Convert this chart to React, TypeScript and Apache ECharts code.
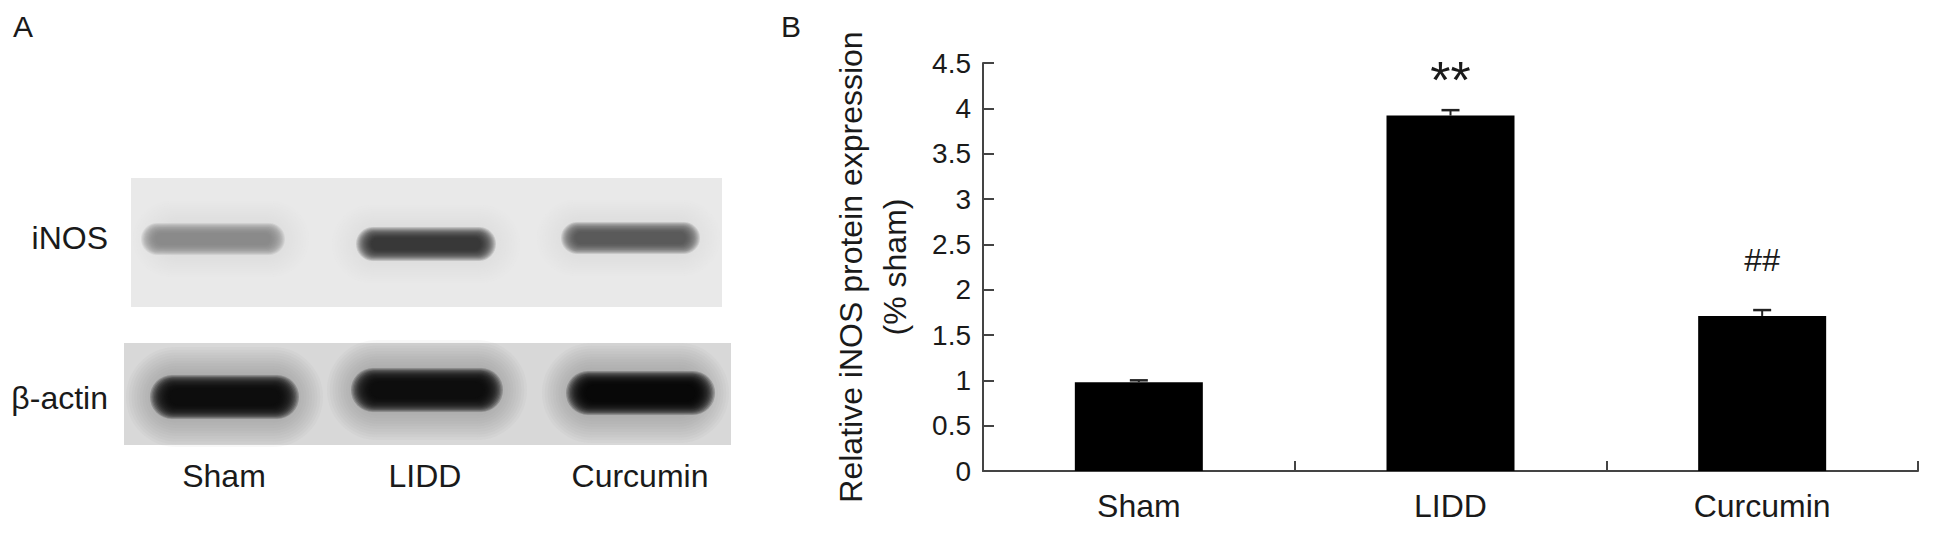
import React, { useEffect, useRef } from 'react';
import * as echarts from 'echarts';

// ---------- data ----------
const categories = ['Sham', 'LIDD', 'Curcumin'];
const meanValues = [0.98, 3.92, 1.71];
const errorValues = [0.02, 0.06, 0.065];
const annotations = ['', '**', '##'];
const yMin = 0;
const yMax = 4.5;
const yInterval = 0.5;
const yTitle = 'Relative iNOS protein expression\n(% sham)';

// western blot (panel A)
const blotRows = ['iNOS', 'β-actin'];
const blotLanes = ['Sham', 'LIDD', 'Curcumin'];
// band darkness (0 = white, 1 = black)
const inosDarkness = [0.45, 0.78, 0.64];
const actinDarkness = [0.94, 0.93, 0.95];

// ---------- layout / style (not data) ----------
const FONT = '"Liberation Sans", Arial, Helvetica, sans-serif';
const TEXT = '#1a1a1a';
const AXIS = '#444';

const annotationStyle: Record<string, { fontSize: number; offset: number }> = {
  '**': { fontSize: 52, offset: 30 },
  '##': { fontSize: 32, offset: 50 },
};

const blotLayout = {
  rowBoxes: [
    { x: 131, y: 178, w: 591, h: 129, bg: 233 },
    { x: 124, y: 343, w: 607, h: 102, bg: 216 },
  ],
  rowLabelX: 108,
  rowLabelY: [238, 398],
  lanes: [
    [
      { x0: 141, x1: 285, cy: 239, h: 32 },
      { x0: 356, x1: 496, cy: 244, h: 34 },
      { x0: 561, x1: 700, cy: 238, h: 32 },
    ],
    [
      { x0: 150, x1: 299, cy: 397, h: 44 },
      { x0: 351, x1: 503, cy: 390, h: 44 },
      { x0: 566, x1: 715, cy: 393, h: 44 },
    ],
  ],
  halo: [
    { dx: 24, dh: 44, darkness: 0.1 },
    { dx: 24, dh: 56, darkness: 0.3 },
  ],
  laneLabelX: [224, 425, 640],
  laneLabelY: 476,
};

function grayHex(v: number) {
  const c = Math.max(0, Math.min(255, Math.round(v)));
  const h = c.toString(16).padStart(2, '0');
  return '#' + h + h + h;
}

// soft band: many stacked rounded rects with low opacity, shrinking inwards
function bandElements(
  x0: number, x1: number, cy: number, h: number,
  darkness: number, bg: number, layers: number, opacity: number,
  insetX: number, insetY: number
) {
  const target = 255 * (1 - darkness);
  const composite = 1 - Math.pow(1 - opacity, layers);
  const fill = grayHex(bg - (bg - target) / composite);
  const els: any[] = [];
  const cx = (x0 + x1) / 2;
  const w = x1 - x0;
  const sx = insetX / (layers - 1);
  const sy = insetY / (layers - 1);
  for (let i = 0; i < layers; i++) {
    const ww = w - 2 * i * sx;
    const hh = h - 2 * i * sy;
    els.push({
      type: 'rect',
      silent: true,
      shape: { x: cx - ww / 2, y: cy - hh / 2, width: ww, height: hh, r: hh / 2 },
      style: { fill, opacity },
    });
  }
  return els;
}

function buildBlot() {
  const els: any[] = [];
  blotLayout.rowBoxes.forEach((b, r) => {
    els.push({
      type: 'rect',
      silent: true,
      shape: { x: b.x, y: b.y, width: b.w, height: b.h },
      style: { fill: grayHex(b.bg) },
    });
    const darkness = r === 0 ? inosDarkness : actinDarkness;
    const halo = blotLayout.halo[r];
    blotLayout.lanes[r].forEach((ln, i) => {
      const hh = Math.min(ln.h + halo.dh, b.h);
      const hx0 = Math.max(b.x + 2, ln.x0 - halo.dx);
      const hx1 = Math.min(b.x + b.w - 2, ln.x1 + halo.dx);
      els.push(
        ...bandElements(hx0, hx1, ln.cy, hh, halo.darkness, b.bg, 12, 0.06, halo.dx + 6, hh * 0.3)
      );
      els.push(
        ...bandElements(ln.x0, ln.x1, ln.cy, ln.h, darkness[i], b.bg, 16,
          r === 0 ? 0.13 : 0.2, ln.h * 0.45, ln.h * 0.32)
      );
    });
    els.push({
      type: 'text',
      silent: true,
      x: blotLayout.rowLabelX,
      y: blotLayout.rowLabelY[r],
      style: { text: blotRows[r], fontSize: 32, fontFamily: FONT, fill: TEXT, align: 'right', verticalAlign: 'middle' },
    });
  });
  blotLanes.forEach((name, i) => {
    els.push({
      type: 'text',
      silent: true,
      x: blotLayout.laneLabelX[i],
      y: blotLayout.laneLabelY,
      style: { text: name, fontSize: 32, fontFamily: FONT, fill: TEXT, align: 'center', verticalAlign: 'middle' },
    });
  });
  els.push({
    type: 'text', silent: true, x: 23, y: 26,
    style: { text: 'A', fontSize: 30, fontFamily: FONT, fill: TEXT, align: 'center', verticalAlign: 'middle' },
  });
  els.push({
    type: 'text', silent: true, x: 791, y: 26,
    style: { text: 'B', fontSize: 30, fontFamily: FONT, fill: TEXT, align: 'center', verticalAlign: 'middle' },
  });
  return els;
}

export default function App() {
  const ref = useRef<HTMLDivElement>(null);

  useEffect(() => {
    if (!ref.current) return;
    const chart = echarts.init(ref.current, undefined, { renderer: 'svg' });
    const option: any = {
      animation: false,
      backgroundColor: '#ffffff',
      grid: { left: 983, right: 15, top: 63, bottom: 64, containLabel: false },
      xAxis: {
        type: 'category',
        data: categories,
        axisLine: { show: true, lineStyle: { color: AXIS, width: 2 } },
        axisTick: { show: true, inside: true, length: 10, lineStyle: { color: AXIS, width: 2 } },
        axisLabel: { fontSize: 32, fontFamily: FONT, color: TEXT, margin: 19 },
        splitLine: { show: false },
      },
      yAxis: {
        type: 'value',
        min: yMin,
        max: yMax,
        interval: yInterval,
        name: yTitle,
        nameLocation: 'middle',
        nameRotate: 90,
        nameGap: 66,
        nameTextStyle: { fontSize: 32, fontFamily: FONT, color: TEXT, lineHeight: 44, align: 'center' },
        axisLine: { show: true, lineStyle: { color: AXIS, width: 2 } },
        axisTick: { show: true, inside: true, length: 11, lineStyle: { color: AXIS, width: 2 } },
        axisLabel: { fontSize: 28, fontFamily: FONT, color: TEXT, margin: 12 },
        splitLine: { show: false },
      },
      series: [
        {
          type: 'bar',
          data: meanValues,
          barWidth: 128,
          itemStyle: { color: '#000000' },
          z: 2,
        },
        {
          type: 'custom',
          z: 5,
          data: categories.map((_, i) => [i, meanValues[i], errorValues[i]]),
          renderItem: (params: any, api: any) => {
            const idx = api.value(0);
            const m = api.value(1);
            const e = api.value(2);
            const p0 = api.coord([idx, m]);
            const p1 = api.coord([idx, m + e]);
            const children: any[] = [
              { type: 'line', shape: { x1: p0[0], y1: p0[1], x2: p1[0], y2: p1[1] }, style: { stroke: '#222', lineWidth: 2 } },
              { type: 'line', shape: { x1: p1[0] - 9, y1: p1[1], x2: p1[0] + 9, y2: p1[1] }, style: { stroke: '#222', lineWidth: 2.5 } },
            ];
            const ann = annotations[params.dataIndex];
            if (ann) {
              const st = annotationStyle[ann];
              children.push({
                type: 'text',
                x: p1[0],
                y: p1[1] - st.offset,
                style: { text: ann, fontSize: st.fontSize, fontFamily: FONT, fill: '#1a1a1a', align: 'center', verticalAlign: 'middle' },
              });
            }
            return { type: 'group', children };
          },
        },
      ],
      graphic: buildBlot(),
    };
    chart.setOption(option);
    return () => chart.dispose();
  }, []);

  return (
    <div
      ref={ref}
      style={{ position: 'fixed', left: 0, top: 0, width: 1933, height: 535, background: '#fff' }}
    />
  );
}
